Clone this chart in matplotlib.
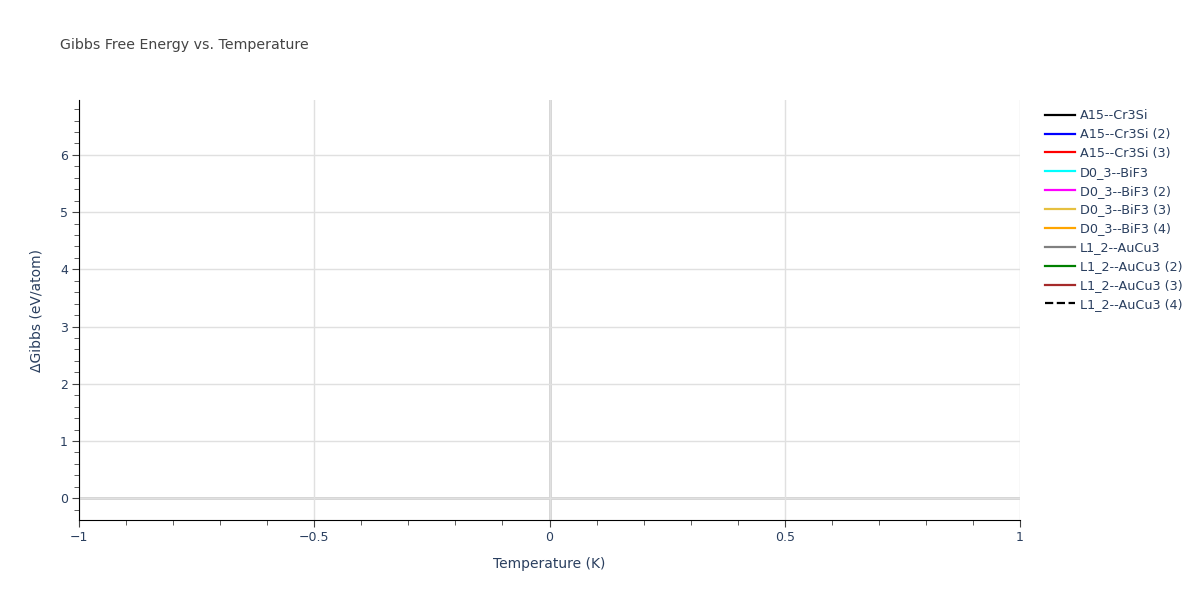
import matplotlib.pyplot as plt
from matplotlib.ticker import MultipleLocator
from matplotlib.lines import Line2D

# series shown in the legend (the traces carry no visible points)
names = ['A15--Cr3Si', 'A15--Cr3Si (2)', 'A15--Cr3Si (3)',
         'D0_3--BiF3', 'D0_3--BiF3 (2)', 'D0_3--BiF3 (3)', 'D0_3--BiF3 (4)',
         'L1_2--AuCu3', 'L1_2--AuCu3 (2)', 'L1_2--AuCu3 (3)', 'L1_2--AuCu3 (4)']
colors = ['black', 'blue', 'red', 'cyan', 'magenta', '#e6c040', 'orange',
          'grey', 'green', 'brown', 'black']
styles = ['-'] * 10 + ['--']
temps = [[] for _ in names]
gibbs = [[] for _ in names]

plt.rcParams['font.family'] = ['DejaVu Sans']
txt = '#2a3f5f'

fig = plt.figure(figsize=(12, 6), dpi=100)
ax = fig.add_axes([79/1200, 80/600, 941/1200, 420/600])

for t, g, n, c, s in zip(temps, gibbs, names, colors, styles):
    ax.plot(t, g, color=c, ls=s, lw=2, label=n)

ax.set_xlim(-1, 1)
ax.set_ylim(-0.38, 6.96)
ax.xaxis.set_major_locator(MultipleLocator(0.5))
ax.xaxis.set_minor_locator(MultipleLocator(0.1))
ax.yaxis.set_major_locator(MultipleLocator(1))
ax.yaxis.set_minor_locator(MultipleLocator(0.2))
ax.xaxis.set_major_formatter(plt.FuncFormatter(lambda v, p: ('%g' % v).replace('-', '\u2212')))

ax.grid(True, which='major', color='#e0e0e0', lw=1)
ax.axhline(0, color='#d0d0d0', lw=2, zorder=1)
ax.axvline(0, color='#d0d0d0', lw=2, zorder=1)
for side in ['top', 'right']:
    ax.spines[side].set_visible(False)
ax.spines['left'].set_color('black')
ax.spines['bottom'].set_color('black')
ax.tick_params(which='major', length=5, color='#444444', labelsize=9, labelcolor=txt, pad=3)
ax.tick_params(which='minor', length=3.5, color='#444444')

ax.set_xlabel('Temperature (K)', fontsize=10, color=txt, labelpad=9)
ax.set_ylabel('\u0394Gibbs (eV/atom)', fontsize=10, color=txt, labelpad=12)
fig.text(60/1200, 1 - 45/600, 'Gibbs Free Energy vs. Temperature', fontsize=10.2,
         color='#444444', va='center', ha='left')

handles = [Line2D([], [], color=c, ls=s, lw=1.6) for c, s in zip(colors, styles)]
leg = fig.legend(handles, names, loc='upper left', bbox_to_anchor=(1040/1200, 1 - 104/600),
                 frameon=False, fontsize=9.2, handlelength=2.35, handletextpad=0.39,
                 labelspacing=0.46, borderaxespad=0)
for t in leg.get_texts():
    t.set_color(txt)

fig.savefig('out.png', dpi=100)
